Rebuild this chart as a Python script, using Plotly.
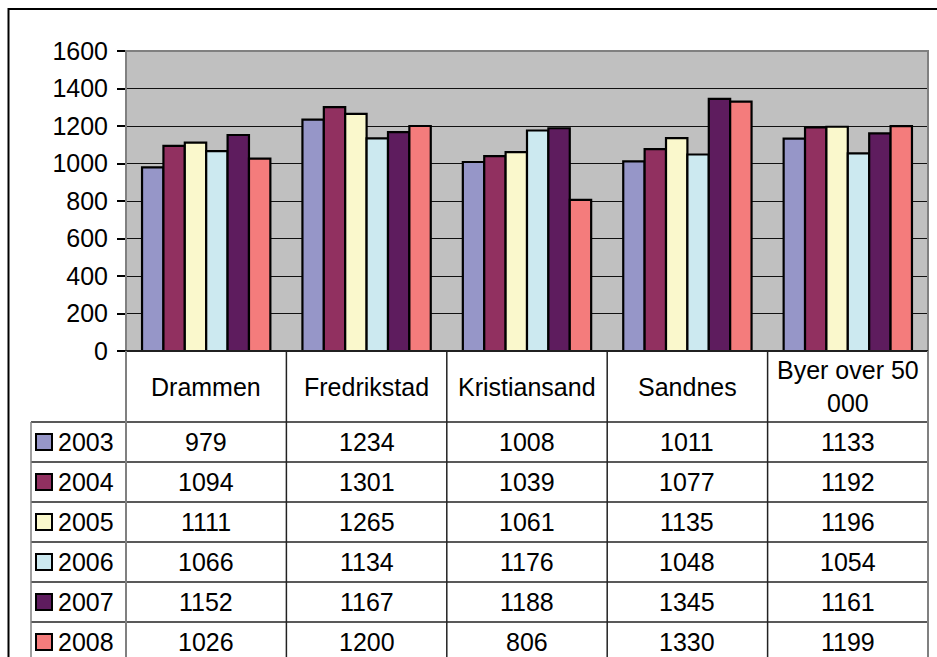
import plotly.graph_objects as go

categories = ["Drammen", "Fredrikstad", "Kristiansand", "Sandnes", "Byer over 50 000"]
header_labels = ["Drammen", "Fredrikstad", "Kristiansand", "Sandnes", "Byer over 50<br>000"]
years = ["2003", "2004", "2005", "2006", "2007", "2008"]
values = {
    "2003": [979, 1234, 1008, 1011, 1133],
    "2004": [1094, 1301, 1039, 1077, 1192],
    "2005": [1111, 1265, 1061, 1135, 1196],
    "2006": [1066, 1134, 1176, 1048, 1054],
    "2007": [1152, 1167, 1188, 1345, 1161],
    "2008": [1026, 1200, 806, 1330, 1199],
}
colors = ["#9696C8", "#913060", "#FAF8CC", "#CCE9F0", "#5E1C5E", "#F47C7C"]
y_ticks = [0, 200, 400, 600, 800, 1000, 1200, 1400, 1600]

W, H = 937, 657
FONT = "Liberation Sans, Arial, sans-serif"
FS = 25

def px(x):
    return x / W

def py(y):
    return 1 - y / H

PL, PR, PT, PB = 126, 928, 51, 351
HEADER_BOTTOM = 422
ROW_H = 40
LEG_LEFT = 31

fig = go.Figure()
for yr, col in zip(years, colors):
    fig.add_trace(go.Bar(
        x=list(range(len(categories))), y=values[yr], name=yr,
        marker=dict(color=col, line=dict(color="black", width=2.2)),
        hovertext=categories,
    ))

shapes = []
shapes.append(dict(type="rect", xref="paper", yref="paper",
                   x0=px(8.5), x1=px(960), y0=py(690), y1=py(9),
                   line=dict(color="black", width=2)))
shapes.append(dict(type="rect", xref="paper", yref="paper",
                   x0=px(PL), x1=px(PR), y0=py(PB), y1=py(PT),
                   line=dict(color="#808080", width=2)))
shapes.append(dict(type="line", xref="paper", yref="paper",
                   x0=px(118), x1=px(PR), y0=py(PB), y1=py(PB),
                   line=dict(color="black", width=1.5)))
n_rows = len(years)
for r in range(n_rows + 1):
    yy = HEADER_BOTTOM + r * ROW_H
    shapes.append(dict(type="line", xref="paper", yref="paper",
                       x0=px(LEG_LEFT), x1=px(PR), y0=py(yy), y1=py(yy),
                       line=dict(color="#222222", width=1.5)))
shapes.append(dict(type="line", xref="paper", yref="paper",
                   x0=px(LEG_LEFT), x1=px(LEG_LEFT), y0=py(HEADER_BOTTOM), y1=py(700),
                   line=dict(color="#808080", width=1.5)))
shapes.append(dict(type="line", xref="paper", yref="paper",
                   x0=px(PL), x1=px(PL), y0=py(PB), y1=py(700),
                   line=dict(color="#808080", width=2)))
for i in range(1, len(categories)):
    shapes.append(dict(type="line", xref="x", yref="paper",
                       x0=i - 0.5, x1=i - 0.5, y0=py(PB), y1=py(700),
                       line=dict(color="#222222", width=1.5)))
shapes.append(dict(type="line", xref="paper", yref="paper",
                   x0=px(PR), x1=px(PR), y0=py(PB), y1=py(700),
                   line=dict(color="#808080", width=2)))

annotations = []
for i, lab in enumerate(header_labels):
    annotations.append(dict(x=i, y=py((PB + HEADER_BOTTOM) / 2), xref="x", yref="paper",
                            text=lab, showarrow=False, xanchor="center", yanchor="middle",
                            font=dict(family=FONT, size=FS, color="black")))
for r, (yr, col) in enumerate(zip(years, colors)):
    yc = HEADER_BOTTOM + r * ROW_H + ROW_H / 2
    shapes.append(dict(type="rect", xref="paper", yref="paper",
                       x0=px(36), x1=px(52), y0=py(yc + 8), y1=py(yc - 8),
                       fillcolor=col, line=dict(color="black", width=2)))
    annotations.append(dict(x=px(56), y=py(yc), xref="paper", yref="paper",
                            text=yr, showarrow=False, xanchor="left", yanchor="middle",
                            font=dict(family=FONT, size=FS, color="black")))
    for i, v in enumerate(values[yr]):
        annotations.append(dict(x=i, y=py(yc), xref="x", yref="paper",
                                text=str(v), showarrow=False, xanchor="center", yanchor="middle",
                                font=dict(family=FONT, size=FS, color="black")))

fig.update_layout(
    width=W, height=H,
    autosize=False,
    margin=dict(l=0, r=0, t=0, b=0, pad=0, autoexpand=False),
    paper_bgcolor="white",
    plot_bgcolor="#C0C0C0",
    barmode="group", bargap=0.2, bargroupgap=0,
    showlegend=False,
    font=dict(family=FONT, size=FS, color="black"),
    xaxis=dict(domain=[px(PL), px(PR)], range=[-0.5, len(categories) - 0.5],
               showticklabels=False, showgrid=False, zeroline=False, ticks="",
               fixedrange=True, automargin=False),
    yaxis=dict(domain=[py(PB), py(PT)], range=[0, 1600], tickvals=y_ticks,
               showgrid=True, gridcolor="#111111", gridwidth=1, zeroline=False,
               ticks="outside", ticklen=8, tickcolor="black", tickwidth=1.5,
               ticklabelstandoff=4,
               tickfont=dict(family=FONT, size=FS, color="black"),
               showline=False, fixedrange=True, automargin=False),
    shapes=shapes,
    annotations=annotations,
)

fig.write_html("out.html", config={"displayModeBar": False},
               post_script="document.body.style.margin='0';document.body.style.overflow='hidden';")
